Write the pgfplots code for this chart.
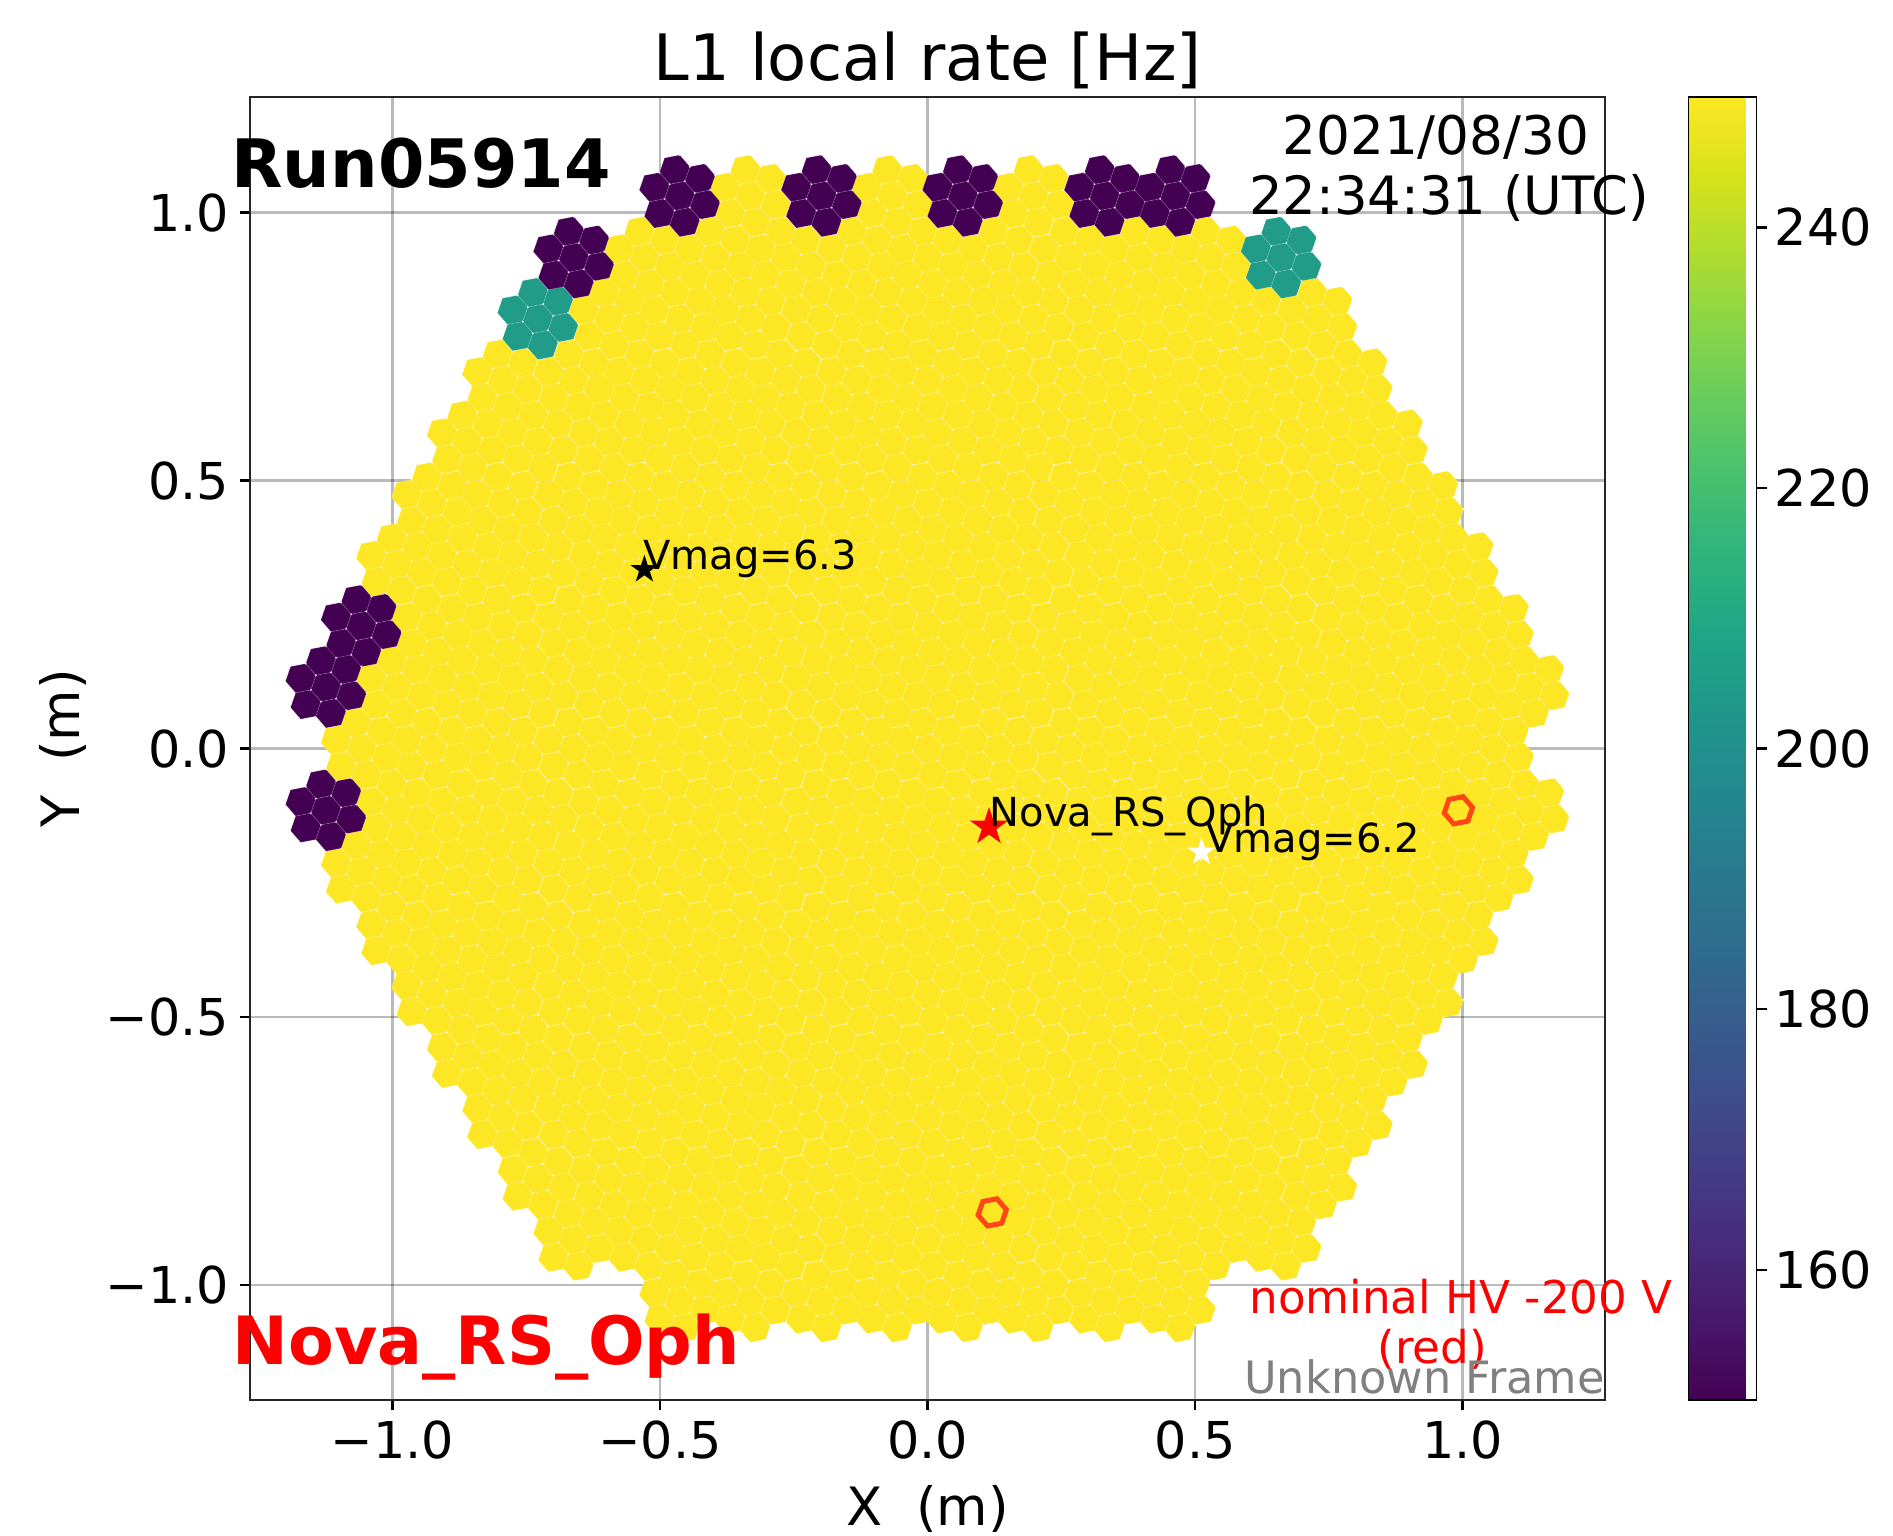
\documentclass[border=0pt]{standalone}
\usepackage{fontspec}
\setmainfont{DejaVu Sans}
\usepackage{pgfplots}
\pgfplotsset{compat=1.18}
\usetikzlibrary{plotmarks}

% one pixel, hexagon with centre #1,#2 and radius #3 (pt)
\newcommand\hexpath[3]{%
  \pgfpathmoveto{\pgfpointadd{\pgfqpoint{#1pt}{#2pt}}{\pgfpointpolar{10.9}{#3pt}}}%
  \pgfpathlineto{\pgfpointadd{\pgfqpoint{#1pt}{#2pt}}{\pgfpointpolar{70.9}{#3pt}}}%
  \pgfpathlineto{\pgfpointadd{\pgfqpoint{#1pt}{#2pt}}{\pgfpointpolar{130.9}{#3pt}}}%
  \pgfpathlineto{\pgfpointadd{\pgfqpoint{#1pt}{#2pt}}{\pgfpointpolar{190.9}{#3pt}}}%
  \pgfpathlineto{\pgfpointadd{\pgfqpoint{#1pt}{#2pt}}{\pgfpointpolar{250.9}{#3pt}}}%
  \pgfpathlineto{\pgfpointadd{\pgfqpoint{#1pt}{#2pt}}{\pgfpointpolar{310.9}{#3pt}}}%
  \pgfpathclose}
\newcommand\pixel[2]{\hexpath{#1}{#2}{3.86}\pgfusepathqfillstroke}
% white dots at two corners of a pixel reach every corner of the lattice
\newcommand\pixeldots[2]{%
  \pgfpathcircle{\pgfpointadd{\pgfqpoint{#1pt}{#2pt}}{\pgfpointpolar{10.9}{3.86pt}}}{0.3pt}%
  \pgfpathcircle{\pgfpointadd{\pgfqpoint{#1pt}{#2pt}}{\pgfpointpolar{70.9}{3.86pt}}}{0.3pt}}
% a camera module: seven pixels with faint white edges
\pgfdeclareplotmark{module}{%
  \pgfsetstrokecolor{white}\pgfsetstrokeopacity{0.14}\pgfsetlinewidth{0.2pt}%
  \pixel{0}{0}%
  \pixel{6.32}{-2.19}\pixel{5.06}{4.38}\pixel{-1.26}{6.57}%
  \pixel{-6.32}{2.19}\pixel{-5.06}{-4.38}\pixel{1.26}{-6.57}%
  \pgfsetfillcolor{white}\pgfsetfillopacity{0.7}%
  \pixeldots{0}{0}%
  \pixeldots{6.32}{-2.19}\pixeldots{5.06}{4.38}\pixeldots{-1.26}{6.57}%
  \pixeldots{-6.32}{2.19}\pixeldots{-5.06}{-4.38}\pixeldots{1.26}{-6.57}%
  \pgfusepathqfill}
\pgfdeclareplotmark{ring}{\hexpath{0}{0}{3.6}\pgfusepathqstroke}
\pgfdeclareplotmark{fstar}{%
  \pgfpathmoveto{\pgfpointpolar{90}{\pgfplotmarksize}}%
  \pgfpathlineto{\pgfpointpolar{126}{0.382\pgfplotmarksize}}%
  \pgfpathlineto{\pgfpointpolar{162}{\pgfplotmarksize}}%
  \pgfpathlineto{\pgfpointpolar{198}{0.382\pgfplotmarksize}}%
  \pgfpathlineto{\pgfpointpolar{234}{\pgfplotmarksize}}%
  \pgfpathlineto{\pgfpointpolar{270}{0.382\pgfplotmarksize}}%
  \pgfpathlineto{\pgfpointpolar{306}{\pgfplotmarksize}}%
  \pgfpathlineto{\pgfpointpolar{342}{0.382\pgfplotmarksize}}%
  \pgfpathlineto{\pgfpointpolar{18}{\pgfplotmarksize}}%
  \pgfpathlineto{\pgfpointpolar{54}{0.382\pgfplotmarksize}}%
  \pgfpathclose\pgfusepathqfill}

\definecolor{ringred}{RGB}{255,70,20}
\definecolor{unk}{RGB}{128,128,128}
\newcommand\fs[1]{\fontsize{#1}{#1}\selectfont}

\pgfplotsset{camera/.style={scatter, only marks, mark=module,
  scatter/use mapped color={draw=mapped color, fill=mapped color}}}

\begin{document}
\begin{tikzpicture}
\useasboundingbox (0,0) rectangle (473.25pt,383.75pt);
\begin{axis}[
  at={(62.5pt,33.75pt)}, anchor=south west,
  scale only axis, width=338.75pt, height=325.75pt,
  xmin=-1.266, xmax=1.266, ymin=-1.215, ymax=1.2155,
  clip=false, axis on top,
  colormap/viridis, point meta min=150, point meta max=250,
  xtick={-1,-0.5,0,0.5,1}, xticklabels={−1.0,−0.5,0.0,0.5,1.0},
  ytick={-1,-0.5,0,0.5,1}, yticklabels={−1.0,−0.5,0.0,0.5,1.0},
  tick align=outside, tick pos=left, major tick length=2.6pt,
  every tick/.style={black, line width=0.6pt},
  axis line style={line width=0.7pt, black!85},
  grid=major, grid style={black, opacity=0.27, line width=0.6pt},
  tick label style={font=\fs{12.7}},
  x tick label style={yshift=0.9pt},
  y tick label style={xshift=0.9pt},
  title={L1 local rate [Hz]},
  title style={at={(0.5,1)}, anchor=base, yshift=-1.75pt, font=\fs{16}},
  xlabel={X\ \ (m)}, ylabel={Y\ \ (m)},
  xlabel style={at={(0.5,0)}, anchor=base, yshift=-31.25pt, font=\fs{13.2}},
  ylabel style={at={(0,0.5)}, anchor=base, yshift=42.5pt, font=\fs{13.2}},
  colorbar,
  colorbar style={
    at={(parent axis.north east)}, anchor=north west, xshift=12.3pt,
    width=17pt, ytick={160,180,200,220,240}, grid=none,
    tick pos=right, yticklabel pos=right, tick align=outside, major tick length=2.6pt,
    axis line style={line width=0.4pt},
    tick label style={font=\fs{12.7}},
    yticklabel style={/pgf/number format/assume math mode=true, xshift=-1.5pt},
  },
  after end axis/.code={
    \node[anchor=base west, inner sep=0pt, font=\fs{10}] at (axis cs:-0.532,0.334) {Vmag=6.3};
    \node[anchor=base west, inner sep=0pt, font=\fs{10}] at (axis cs:0.115,-0.146) {Nova\_RS\_Oph};
    \node[anchor=base west, inner sep=0pt, font=\fs{10}] at (axis cs:0.52,-0.193) {Vmag=6.2};
    \node[anchor=base west, inner sep=0pt, font=\fs{16.7}\bfseries] at (axis cs:-1.302,1.046) {Run05914};
    \node[anchor=base west, inner sep=0pt, font=\fs{16.65}\bfseries, text=red] at (axis cs:-1.30,-1.148) {Nova\_RS\_Oph};
    \node[anchor=base, inner sep=0pt, font=\fs{13.3}] at (axis cs:0.95,1.109) {2021/08/30};
    \node[anchor=base, inner sep=0pt, font=\fs{13.2}] at (axis cs:0.975,0.997) {22:34:31 (UTC)};
    \node[anchor=base, inner sep=0pt, font=\fs{11.3}, text=red] at (axis cs:0.997,-1.053) {nominal HV -200 V};
    \node[anchor=base, inner sep=0pt, font=\fs{11.3}, text=red] at (axis cs:0.943,-1.146) {(red)};
    \node[anchor=base east, inner sep=0pt, font=\fs{11.15}, text=unk] at (axis cs:1.2665,-1.202) {Unknown Frame};
  },
]
% modules at the nominal rate
\addplot[camera, point meta=250] coordinates {
(-0.331,1.031)(-0.066,1.031)(0.198,1.031)
(-0.529,0.916)(-0.397,0.916)(-0.265,0.916)(-0.132,0.916)(0,0.916)(0.132,0.916)(0.265,0.916)(0.397,0.916)(0.529,0.916)
(-0.595,0.802)(-0.463,0.802)(-0.331,0.802)(-0.198,0.802)(-0.066,0.802)(0.066,0.802)(0.198,0.802)(0.331,0.802)(0.463,0.802)(0.595,0.802)(0.728,0.802)
(-0.794,0.687)(-0.661,0.687)(-0.529,0.687)(-0.397,0.687)(-0.265,0.687)(-0.132,0.687)(0,0.687)(0.132,0.687)(0.265,0.687)(0.397,0.687)(0.529,0.687)(0.661,0.687)(0.794,0.687)
(-0.860,0.573)(-0.728,0.573)(-0.595,0.573)(-0.463,0.573)(-0.331,0.573)(-0.198,0.573)(-0.066,0.573)(0.066,0.573)(0.198,0.573)(0.331,0.573)(0.463,0.573)(0.595,0.573)(0.728,0.573)(0.860,0.573)
(-0.926,0.458)(-0.794,0.458)(-0.661,0.458)(-0.529,0.458)(-0.397,0.458)(-0.265,0.458)(-0.132,0.458)(0,0.458)(0.132,0.458)(0.265,0.458)(0.397,0.458)(0.529,0.458)(0.661,0.458)(0.794,0.458)(0.926,0.458)
(-0.992,0.344)(-0.860,0.344)(-0.728,0.344)(-0.595,0.344)(-0.463,0.344)(-0.331,0.344)(-0.198,0.344)(-0.066,0.344)(0.066,0.344)(0.198,0.344)(0.331,0.344)(0.463,0.344)(0.595,0.344)(0.728,0.344)(0.860,0.344)(0.992,0.344)
(-0.926,0.229)(-0.794,0.229)(-0.661,0.229)(-0.529,0.229)(-0.397,0.229)(-0.265,0.229)(-0.132,0.229)(0,0.229)(0.132,0.229)(0.265,0.229)(0.397,0.229)(0.529,0.229)(0.661,0.229)(0.794,0.229)(0.926,0.229)(1.058,0.229)
(-0.992,0.115)(-0.860,0.115)(-0.728,0.115)(-0.595,0.115)(-0.463,0.115)(-0.331,0.115)(-0.198,0.115)(-0.066,0.115)(0.066,0.115)(0.198,0.115)(0.331,0.115)(0.463,0.115)(0.595,0.115)(0.728,0.115)(0.860,0.115)(0.992,0.115)(1.124,0.115)
(-1.058,0)(-0.926,0)(-0.794,0)(-0.661,0)(-0.529,0)(-0.397,0)(-0.265,0)(-0.132,0)(0,0)(0.132,0)(0.265,0)(0.397,0)(0.529,0)(0.661,0)(0.794,0)(0.926,0)(1.058,0)
(-0.992,-0.115)(-0.860,-0.115)(-0.728,-0.115)(-0.595,-0.115)(-0.463,-0.115)(-0.331,-0.115)(-0.198,-0.115)(-0.066,-0.115)(0.066,-0.115)(0.198,-0.115)(0.331,-0.115)(0.463,-0.115)(0.595,-0.115)(0.728,-0.115)(0.860,-0.115)(0.992,-0.115)(1.124,-0.115)
(-1.058,-0.229)(-0.926,-0.229)(-0.794,-0.229)(-0.661,-0.229)(-0.529,-0.229)(-0.397,-0.229)(-0.265,-0.229)(-0.132,-0.229)(0,-0.229)(0.132,-0.229)(0.265,-0.229)(0.397,-0.229)(0.529,-0.229)(0.661,-0.229)(0.794,-0.229)(0.926,-0.229)(1.058,-0.229)
(-0.992,-0.344)(-0.860,-0.344)(-0.728,-0.344)(-0.595,-0.344)(-0.463,-0.344)(-0.331,-0.344)(-0.198,-0.344)(-0.066,-0.344)(0.066,-0.344)(0.198,-0.344)(0.331,-0.344)(0.463,-0.344)(0.595,-0.344)(0.728,-0.344)(0.860,-0.344)(0.992,-0.344)
(-0.926,-0.458)(-0.794,-0.458)(-0.661,-0.458)(-0.529,-0.458)(-0.397,-0.458)(-0.265,-0.458)(-0.132,-0.458)(0,-0.458)(0.132,-0.458)(0.265,-0.458)(0.397,-0.458)(0.529,-0.458)(0.661,-0.458)(0.794,-0.458)(0.926,-0.458)
(-0.860,-0.573)(-0.728,-0.573)(-0.595,-0.573)(-0.463,-0.573)(-0.331,-0.573)(-0.198,-0.573)(-0.066,-0.573)(0.066,-0.573)(0.198,-0.573)(0.331,-0.573)(0.463,-0.573)(0.595,-0.573)(0.728,-0.573)(0.860,-0.573)
(-0.794,-0.687)(-0.661,-0.687)(-0.529,-0.687)(-0.397,-0.687)(-0.265,-0.687)(-0.132,-0.687)(0,-0.687)(0.132,-0.687)(0.265,-0.687)(0.397,-0.687)(0.529,-0.687)(0.661,-0.687)(0.794,-0.687)
(-0.728,-0.802)(-0.595,-0.802)(-0.463,-0.802)(-0.331,-0.802)(-0.198,-0.802)(-0.066,-0.802)(0.066,-0.802)(0.198,-0.802)(0.331,-0.802)(0.463,-0.802)(0.595,-0.802)(0.728,-0.802)
(-0.661,-0.916)(-0.529,-0.916)(-0.397,-0.916)(-0.265,-0.916)(-0.132,-0.916)(0,-0.916)(0.132,-0.916)(0.265,-0.916)(0.397,-0.916)(0.529,-0.916)(0.661,-0.916)
(-0.463,-1.031)(-0.331,-1.031)(-0.198,-1.031)(-0.066,-1.031)(0.066,-1.031)(0.198,-1.031)(0.331,-1.031)(0.463,-1.031)
};
% modules with a lower rate
\addplot[camera, point meta=205] coordinates {(0.661,0.916)(-0.728,0.802)};
\addplot[camera, point meta=150] coordinates {
(-0.463,1.031)(-0.198,1.031)(0.066,1.031)(0.331,1.031)(0.463,1.031)
(-0.661,0.916)(-1.058,0.229)(-1.124,0.115)(-1.124,-0.115)
};
% pixels at reduced HV
\addplot[only marks, mark=ring, mark options={draw=ringred, line width=1.25pt}]
  coordinates {(0.992,-0.115)(0.121,-0.865)};
% stars
\addplot[only marks, mark=fstar, mark size=3.7pt, mark options={draw=none, fill=black}]
  coordinates {(-0.529,0.334)};
\addplot[only marks, mark=fstar, mark size=3.7pt, mark options={draw=none, fill=white}]
  coordinates {(0.512,-0.193)};
\addplot[only marks, mark=fstar, mark size=5pt, mark options={draw=none, fill=red}]
  coordinates {(0.115,-0.146)};
\end{axis}
\end{tikzpicture}
\end{document}
